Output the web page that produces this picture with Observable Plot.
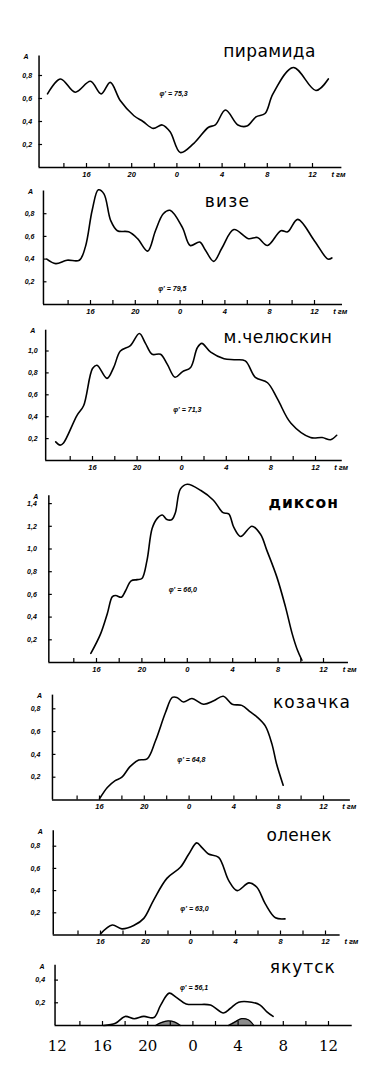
<!DOCTYPE html>
<html><head><meta charset="utf-8">
<script src="https://cdn.jsdelivr.net/npm/d3@7"></script>
<script src="https://cdn.jsdelivr.net/npm/@observablehq/plot@0.6"></script>
<style>
body{margin:0;background:#fff;}
#chart{width:381px;height:1068px;overflow:hidden;background:#fff;}
#chart svg{display:block;}
</style></head><body><div id="chart"></div>
<script>
// ---------- data ----------
const stations = ["пирамида","визе","м.челюскин","диксон","козачка","оленек","якутск"];
const latitudes = ["75,3","79,5","71,3","66,0","64,8","63,0","56,1"];

const pyramida = [[12.55,0.64],[13.7,0.77],[15.0,0.655],[16.35,0.75],[17.3,0.64],[18.1,0.74],[19.0,0.58],[20.2,0.45],[21.0,0.40],[21.9,0.34],[22.7,0.37],[23.4,0.31],[24.3,0.13],[25.5,0.21],[26.8,0.35],[27.4,0.37],[28.3,0.50],[29.4,0.37],[30.2,0.36],[31.0,0.44],[31.8,0.47],[32.5,0.64],[34.3,0.87],[36.3,0.67],[37.4,0.77]];
const vize = [[12.1,0.40],[12.9,0.36],[13.9,0.39],[15.0,0.39],[15.55,0.51],[16.15,0.83],[16.7,1.01],[17.2,0.975],[17.8,0.74],[18.4,0.65],[19.4,0.64],[20.2,0.58],[21.1,0.47],[21.8,0.65],[22.5,0.80],[23.1,0.83],[24.2,0.68],[24.9,0.52],[25.75,0.55],[26.25,0.48],[27.0,0.38],[27.75,0.50],[28.8,0.66],[30.1,0.58],[30.9,0.59],[31.8,0.52],[33.0,0.65],[33.6,0.64],[34.5,0.75],[36.0,0.56],[37.2,0.40],[37.55,0.41]];
const chelyuskin = [[12.7,0.17],[13.1,0.14],[13.4,0.16],[14.6,0.41],[15.2,0.50],[16.0,0.84],[16.4,0.87],[17.3,0.75],[17.9,0.85],[18.5,1.00],[19.4,1.05],[20.2,1.16],[20.75,1.07],[21.35,0.97],[22.1,0.97],[22.7,0.88],[23.4,0.76],[24.05,0.81],[24.8,0.85],[25.4,1.03],[25.8,1.07],[26.6,0.99],[27.8,0.93],[28.7,0.92],[29.7,0.91],[30.6,0.76],[31.7,0.71],[32.6,0.56],[33.8,0.34],[35.55,0.21],[36.6,0.21],[37.35,0.19],[37.9,0.23]];
const dikson = [[15.5,0.08],[16.35,0.25],[16.95,0.43],[17.4,0.58],[17.7,0.59],[18.2,0.575],[18.55,0.63],[19.05,0.72],[19.6,0.73],[20.0,0.74],[20.45,0.90],[20.9,1.18],[21.35,1.27],[21.8,1.30],[22.2,1.26],[22.65,1.26],[22.95,1.32],[23.4,1.53],[24.0,1.57],[25.2,1.515],[26.3,1.43],[27.15,1.32],[27.65,1.31],[28.1,1.19],[28.7,1.11],[29.7,1.20],[30.45,1.13],[31.0,0.99],[31.9,0.75],[32.65,0.49],[33.25,0.25],[33.7,0.11],[34.1,0.02]];
const kozachka = [[16.0,0.01],[16.7,0.11],[17.4,0.17],[18.0,0.20],[18.7,0.29],[19.5,0.35],[20.25,0.36],[21.0,0.52],[21.9,0.77],[22.5,0.90],[22.9,0.90],[23.5,0.86],[24.25,0.89],[25.3,0.84],[26.2,0.87],[27.05,0.91],[27.85,0.84],[28.7,0.83],[29.5,0.77],[30.05,0.73],[30.8,0.65],[31.4,0.49],[31.8,0.32],[32.4,0.13]];
const olenek = [[16.0,0.01],[17.05,0.09],[17.9,0.055],[18.95,0.085],[19.85,0.15],[20.7,0.31],[21.9,0.51],[23.1,0.61],[23.85,0.73],[24.55,0.83],[25.0,0.79],[25.6,0.73],[26.5,0.70],[27.4,0.49],[28.15,0.40],[29.2,0.47],[29.9,0.43],[30.65,0.28],[31.55,0.155],[32.4,0.145]];
const yakutsk = [[16.1,0.0],[17.15,0.02],[18.0,0.08],[18.8,0.06],[19.65,0.08],[20.55,0.07],[21.15,0.18],[21.9,0.285],[22.5,0.25],[23.4,0.19],[24.4,0.185],[25.55,0.18],[26.7,0.11],[27.3,0.15],[28.05,0.205],[29.2,0.205],[29.95,0.18],[30.55,0.12],[31.1,0.08]];
const yakutskLow1 = [[20.7,0.0],[21.2,0.025],[21.8,0.04],[22.4,0.03],[22.9,0.0]];
const yakutskLow2 = [[27.15,0.0],[27.7,0.03],[28.3,0.06],[28.9,0.05],[29.4,0.0]];

const series = [pyramida, vize, chelyuskin, dikson, kozachka, olenek, yakutsk];

const yTicks = [
  [0.2,0.4,0.6,0.8],
  [0.2,0.4,0.6,0.8],
  [0.2,0.4,0.6,0.8,1.0],
  [0.2,0.4,0.6,0.8,1.0,1.2,1.4],
  [0.2,0.4,0.6,0.8],
  [0.2,0.4,0.6,0.8],
  [0.2,0.4]
];
const xLabelHours = [16,20,24,28,32,36];
const minorTickHours = [14,16,18,20,22,24,26,28,30,32,34,36];
const bottomLabelHours = [12,16,20,24,28,32,36];
const yLabel = "A";
const xUnit = "t гм";

// ---------- layout (pixel geometry of each scanned panel) ----------
const AXIS_X = 11.8;
const layout = [
  {top:0,   height:182, y0:167,   k:115,   x16:86,  pph:11.3,  axTop:0.97, xEnd:38.6, ydx:7,  title:[28.1,0.957], note:[23.7,0.64], tf:{size:17, weight:"normal", ls:0.4}},
  {top:182, height:136, y0:304,   k:113.5, x16:90,  pph:11.2,  axTop:1.0,  xEnd:38.5, ydx:9,  title:[26.2,0.855], note:[23.3,0.14], tf:{size:17, weight:"normal", ls:1.2}},
  {top:318, height:160, y0:460,   k:109.5, x16:92,  pph:11.15, axTop:1.19, xEnd:38.4, ydx:8,  title:[27.75,1.07], note:[24.5,0.46], tf:{size:17, weight:"normal", ls:0.3}},
  {top:478, height:202, y0:662,   k:113.5, x16:96,  pph:11.35, axTop:1.47, xEnd:38.2, ydx:12, title:[31.15,1.36], note:[23.6,0.64], tf:{size:15.5, weight:"bold", ls:1}},
  {top:680, height:138, y0:799.5, k:114,   x16:99,  pph:11.2,  axTop:0.92, xEnd:38.4, ydx:12, title:[31.5,0.81],  note:[24.2,0.35], tf:{size:17, weight:"normal", ls:1}},
  {top:818, height:132, y0:934.5, k:111,   x16:100, pph:11.25, axTop:0.94, xEnd:37.3, ydx:13, title:[30.75,0.85], note:[24.35,0.24], tf:{size:17, weight:"normal", ls:0.3}},
  {top:950, height:118, y0:1025,  k:113.5, x16:102, pph:11.3,  axTop:0.53, xEnd:38.1, ydx:10, title:[30.8,0.46],  note:[24.1,0.33], tf:{size:17, weight:"normal", ls:1}}
];

const small = {fontSize:7, fontWeight:"bold", fontStyle:"italic", fontFamily:"Liberation Sans, sans-serif", fill:"#000"};
const fmtComma = d => d.toFixed(1).replace(".", ",");

function panel(i) {
  const L = layout[i];
  const ymax = (L.y0 - L.top) / L.k;
  const last = i === layout.length - 1;
  const marks = [
    Plot.ruleX([AXIS_X], {x: d => d, y1: 0, y2: L.axTop, stroke:"#000", strokeWidth:1.5}),
    Plot.ruleY([0], {y: d => d, x1: AXIS_X, x2: L.xEnd, stroke:"#000", strokeWidth:1.5}),
    Plot.ruleX(minorTickHours, {x: d => d, y1: 0, y2: 4 / L.k, stroke:"#000", strokeWidth:1.2}),
    Plot.ruleY(yTicks[i], {y: d => d, x1: AXIS_X, x2: AXIS_X + 3.5 / L.pph, stroke:"#000", strokeWidth:1.2}),
    Plot.text(yTicks[i], {x: AXIS_X, y: d => d, dx: -L.ydx, text: fmtComma, textAnchor:"end", ...small}),
    Plot.text([yLabel], {x: AXIS_X, y: L.axTop, dx: -13, dy: 1, text: d => d, ...small}),
    Plot.line(series[i], {x: d => d[0], y: d => d[1], curve:"catmull-rom", stroke:"#000", strokeWidth:1.6}),
    Plot.text([stations[i]], {x: L.title[0], y: L.title[1], text: d => d, textAnchor:"start", lineAnchor:"bottom",
      fontSize: L.tf.size, fontFamily:"DejaVu Sans, sans-serif", fontWeight: L.tf.weight, fill:"#000"}),
    Plot.text([`φ' = ${latitudes[i]}`], {x: L.note[0], y: L.note[1], text: d => d, ...small})
  ];
  if (last) {
    for (const low of [yakutskLow1, yakutskLow2]) {
      marks.push(Plot.areaY(low, {x: d => d[0], y: d => d[1], curve:"catmull-rom", fill:"#000", fillOpacity:0.45}));
      marks.push(Plot.line(low, {x: d => d[0], y: d => d[1], curve:"catmull-rom", stroke:"#000", strokeWidth:1.2}));
    }
    marks.push(Plot.text(bottomLabelHours, {x: d => d, y: 0, dy: 21, text: d => String(d % 24),
      fontSize:15, fontWeight:"normal", fontFamily:"DejaVu Serif, serif", fill:"#000"}));
  } else {
    marks.push(Plot.text(xLabelHours, {x: d => d, y: 0, dy: 7, text: d => String(d % 24), ...small, fontSize:7.5}));
    marks.push(Plot.text([xUnit], {x: 38.3, y: 0, dy: 7, text: d => d, ...small, fontSize:7.5}));
  }
  const svg = Plot.plot({
    width: 381, height: L.height, margin: 0,
    x: {domain: [12, 39], range: [L.x16 - 4 * L.pph, L.x16 + 23 * L.pph], axis: null},
    y: {domain: [0, ymax], range: [L.y0 - L.top, 0], axis: null},
    style: {background: "#fff", overflow: "visible"},
    marks
  });
  d3.select(svg).selectAll("text").filter(function() { return this.textContent === stations[i]; })
    .style("letter-spacing", L.tf.ls + "px");
  return svg;
}

const root = document.getElementById("chart");
layout.forEach((L, i) => root.appendChild(panel(i)));
</script>
</body></html>
